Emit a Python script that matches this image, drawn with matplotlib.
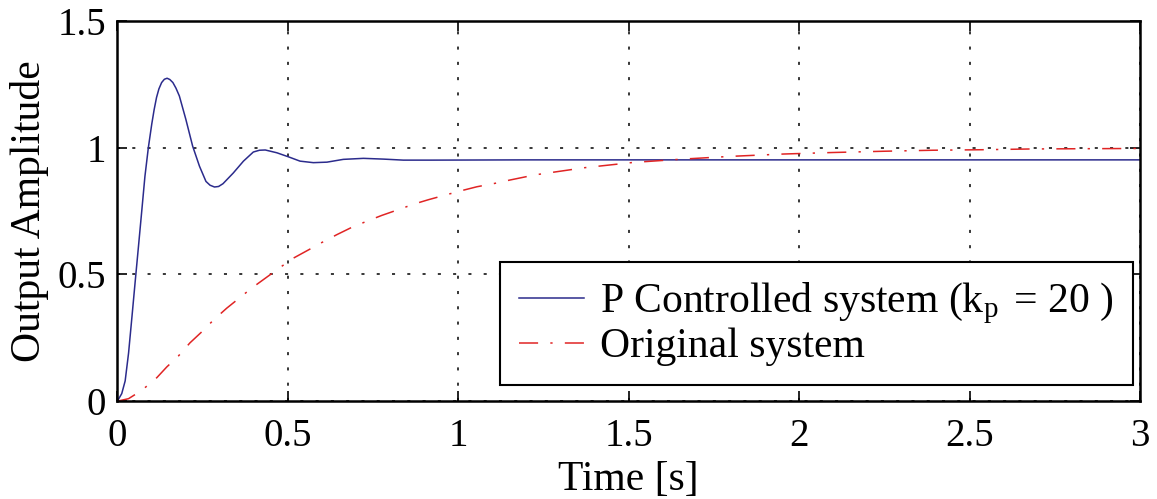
import matplotlib
matplotlib.use("Agg")
import matplotlib.pyplot as plt

plt.rcParams['font.family'] = ['Liberation Serif', 'DejaVu Serif']
plt.rcParams['mathtext.fontset'] = 'custom'
plt.rcParams['mathtext.rm'] = 'Liberation Serif'
plt.rcParams['mathtext.it'] = 'Liberation Serif:italic'

# P controlled step response
t_p = [0.0, 0.013, 0.023, 0.033, 0.043, 0.052, 0.062, 0.072, 0.081, 0.091,
       0.101, 0.108, 0.115, 0.122, 0.130, 0.138, 0.146, 0.154, 0.163, 0.172,
       0.182, 0.201, 0.221, 0.241, 0.260, 0.272, 0.285, 0.297, 0.310, 0.340,
       0.370, 0.399, 0.417, 0.434, 0.468, 0.502, 0.536, 0.575, 0.615, 0.663,
       0.722, 0.781, 0.839, 0.918, 1.2, 1.6, 2.0, 2.5, 3.0]
y_p = [0.0, 0.03, 0.08, 0.19, 0.334, 0.466, 0.61, 0.755, 0.887, 1.0,
       1.093, 1.150, 1.198, 1.232, 1.257, 1.270, 1.274, 1.269, 1.257, 1.235,
       1.204, 1.112, 1.006, 0.927, 0.867, 0.852, 0.845, 0.847, 0.858, 0.90,
       0.947, 0.983, 0.990, 0.991, 0.980, 0.964, 0.947, 0.941, 0.943, 0.954,
       0.958, 0.955, 0.951, 0.951, 0.952, 0.952, 0.952, 0.952, 0.952]

# original system step response
t_o = [0.0, 0.033, 0.072, 0.116, 0.145, 0.179, 0.213, 0.248, 0.282, 0.321,
       0.358, 0.394, 0.434, 0.475, 0.512, 0.561, 0.60, 0.644, 0.688, 0.732,
       0.776, 0.825, 0.871, 0.913, 0.967, 1.011, 1.055, 1.114, 1.15, 1.226,
       1.37, 1.514, 1.658, 1.802, 1.953, 2.097, 2.248, 2.392, 2.536, 2.68,
       2.83, 3.0]
y_o = [0.0, 0.01, 0.043, 0.093, 0.135, 0.178, 0.23, 0.274, 0.32, 0.367,
       0.407, 0.446, 0.485, 0.525, 0.561, 0.597, 0.626, 0.657, 0.686, 0.71,
       0.733, 0.756, 0.778, 0.795, 0.815, 0.831, 0.846, 0.861, 0.872, 0.893,
       0.921, 0.942, 0.955, 0.966, 0.975, 0.981, 0.986, 0.99, 0.992, 0.995,
       0.996, 0.997]

xticks = [0, 0.5, 1, 1.5, 2, 2.5, 3]
xtick_labels = ['0', '0.5', '1', '1.5', '2', '2.5', '3']
yticks = [0, 0.5, 1, 1.5]
ytick_labels = ['0', '0.5', '1', '1.5']

fig = plt.figure(figsize=(11.57, 4.99), dpi=100)
ax = fig.add_axes([0.1014, 0.196, 0.8839, 0.762])

ax.plot(t_p, y_p, color='#2b2b8c', linewidth=1.1,
        label=r'P Controlled system (k$_\mathrm{p}\,$ = 20 )')
ax.plot(t_o, y_o, color='#e02424', linewidth=1.1,
        linestyle=(0, (12.5, 8, 1.5, 8)), label='Original system')

ax.set_xlim(0, 3)
ax.set_ylim(0, 1.5)
ax.set_xticks(xticks)
ax.set_xticklabels(xtick_labels)
ax.set_yticks(yticks)
ax.set_yticklabels(ytick_labels)
ax.tick_params(direction='in', top=True, right=True, length=7, width=1.2,
               labelsize=28, pad=8)
ax.tick_params(axis='x', pad=12)
for s in ax.spines.values():
    s.set_linewidth(1.8)
ax.grid(True, color='black', linestyle=(0, (2, 8)), linewidth=1.1)

ax.set_xlabel('Time [s]', fontsize=30, labelpad=4)
ax.set_ylabel('Output Amplitude', fontsize=30, labelpad=6)

leg = ax.legend(loc='lower right', bbox_to_anchor=(0.993, 0.042), fontsize=30,
                fancybox=False, framealpha=1, edgecolor='black',
                handlelength=1.55, borderpad=0.45, labelspacing=0.05,
                handletextpad=0.4, borderaxespad=0)
leg.get_frame().set_linewidth(1.5)

fig.savefig('out.png', dpi=100)
